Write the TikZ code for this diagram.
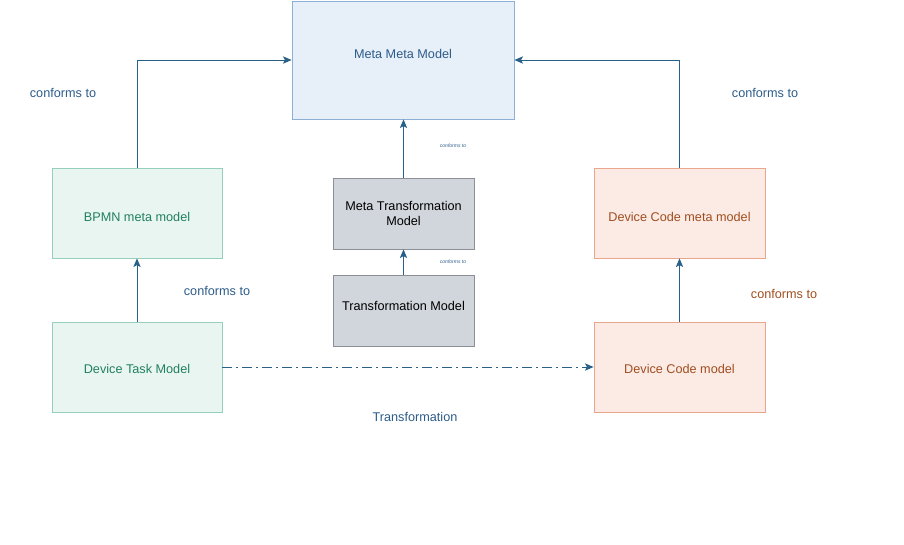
\documentclass[tikz,border=0pt]{standalone}
\usepackage{xcolor}
\usepackage{fontspec}
\setmainfont{Liberation Sans}
\usepackage{tikz}
\usetikzlibrary{arrows.meta}
\newcommand{\nudge}[2]{\raisebox{#1}[\height][\depth]{#2}}

\begin{document}
\begin{tikzpicture}[x=0.75pt,y=0.75pt,yscale=-1,xscale=1,
        every node/.style={font=\fontsize{9.5}{11.5}\selectfont},
        bluebox/.style={draw={rgb,255:red,142;green,176;blue,214}, fill={rgb,255:red,231;green,239;blue,248}, text={rgb,255:red,45;green,92;blue,138}, line width=0.6pt, minimum width=166.5pt, minimum height=88.5pt, align=center},
        greenbox/.style={draw={rgb,255:red,150;green,208;blue,186}, fill={rgb,255:red,232;green,245;blue,240}, text={rgb,255:red,34;green,128;blue,98}, line width=0.6pt, minimum width=127.5pt, minimum height=67.5pt, align=center},
        redbox/.style={draw={rgb,255:red,234;green,166;blue,140}, fill={rgb,255:red,251;green,235;blue,228}, text={rgb,255:red,160;green,78;blue,32}, line width=0.6pt, minimum width=128.25pt, minimum height=67.5pt, align=center},
        greybox/.style={draw={rgb,255:red,140;green,143;blue,150}, fill={rgb,255:red,209;green,213;blue,220}, text=black, line width=0.6pt, minimum width=105.75pt, minimum height=53.25pt, align=center},
        conn/.style={draw={rgb,255:red,40;green,96;blue,136}, line width=0.75pt, -{Stealth[length=6.5pt,width=5.5pt,inset=1.5pt]}},
        lbl/.style={inner sep=0.75pt, text={rgb,255:red,45;green,92;blue,138}},
        tiny/.style={inner sep=0pt, font=\fontsize{3.75}{4}\selectfont\itshape, text={rgb,255:red,45;green,92;blue,138}}]
        \useasboundingbox (0,0) rectangle (904,544);
        
        \draw (403,60) node [bluebox] (metameta) {\nudge{4.5pt}{Meta Meta Model}};
        \draw (137,213) node [greenbox] (bpmn) {\nudge{-3pt}{BPMN meta model}};
        \draw (137,367) node [greenbox] (task) {\nudge{-1.5pt}{Device Task Model}};
        \draw (403.5,213.5) node [greybox] (metatrans) {Meta Transformation\\Model};
        \draw (403.5,310.5) node [greybox] (trans) {\nudge{3.75pt}{Transformation Model}};
        \draw (679.5,213) node [redbox] (codemeta) {\nudge{-3pt}{Device Code meta model}};
        \draw (679.5,367) node [redbox] (code) {\nudge{-1.5pt}{Device Code model}};
        
        \draw [conn] (bpmn.north) |- (metameta.west) ;
        \draw [conn] (codemeta.north) |- (metameta.east) ;
        \draw [conn] (task.north) -- (bpmn.south) ;
        \draw [conn] (code.north) -- (codemeta.south) ;
        \draw [conn] (metatrans.north) -- (metameta.south -| metatrans.north) ;
        \draw [conn] (trans.north) -- (metatrans.south) ;
        \draw [conn, dash pattern=on 7.5pt off 3pt on 1.5pt off 3pt] (task.east) -- (code.west) ;
        
        \draw (63,93) node [lbl] (cfbpmn) {conforms to};
        \draw (765,93) node [lbl] (cfcode) {conforms to};
        \draw (217,291) node [lbl] (cftask) {conforms to};
        \draw (784,294) node [lbl, text={rgb,255:red,160;green,78;blue,32}] (cfdevice) {conforms to};
        \draw (415,417) node [lbl] (lbltrans) {Transformation};
        \draw (453,146) node [tiny] (cfmeta) {conforms to};
        \draw (453,262) node [tiny] (cftrans) {conforms to};

\end{tikzpicture}
\end{document}
